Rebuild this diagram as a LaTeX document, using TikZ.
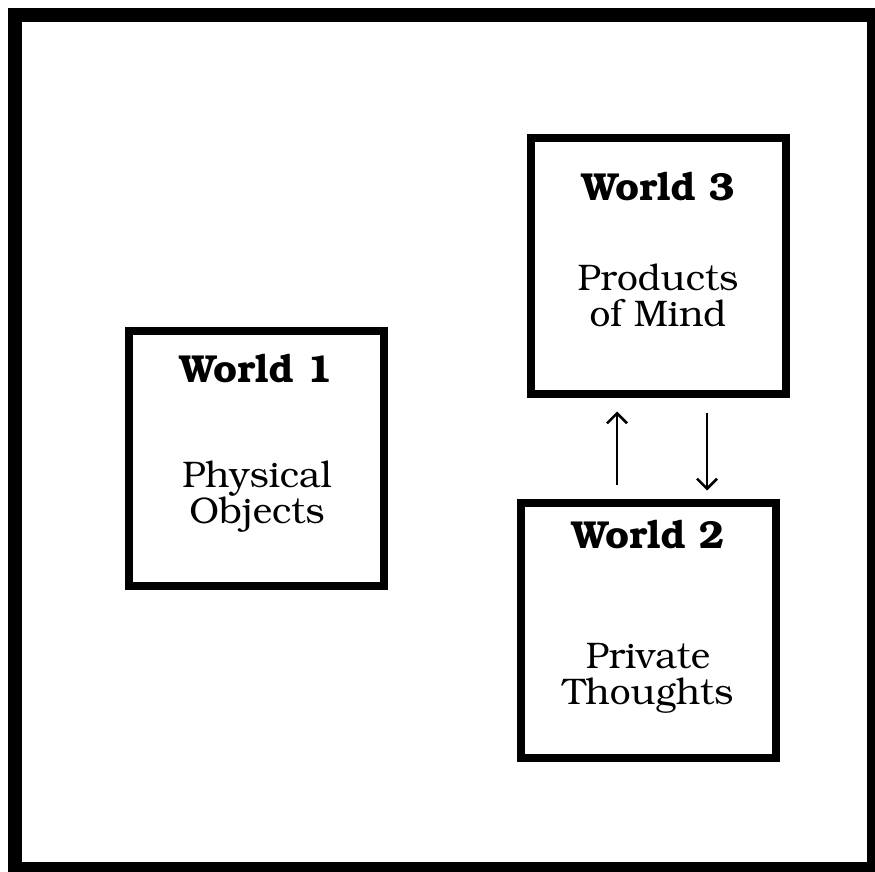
\documentclass[tikz,border=0pt]{standalone}
\usepackage[T1]{fontenc}
\usepackage{bookman}
\usetikzlibrary{arrows.meta}
\tikzset{
  worldbox/.style={draw, line width=8pt, minimum width=255pt, minimum height=255pt, inner sep=0pt},
  title/.style={anchor=base, font=\fontsize{39}{39}\selectfont\bfseries, inner sep=0pt},
  body/.style={anchor=base, font=\fontsize{37}{37}\selectfont, inner sep=0pt},
  flow/.style={line width=2.5pt, -{Straight Barb[length=10pt,width=20pt]}}
}
\begin{document}
\begin{tikzpicture}[x=1pt,y=-1pt]
\useasboundingbox (0,0) rectangle (875,872);
\draw[line width=14pt] (15,15) rectangle (874,869);
% boxes
\node[worldbox] (w1) at (256.5,458.5) {};
\node[worldbox] (w3) at (658,266) {};
\node[worldbox] (w2) at (648.5,630) {};
% texts
\node[title] (t1) at (256,382) {World 1};
\node[body] (p1a) at (257,487) {Physical};
\node[body] (p1b) at (257,523) {Objects};
\node[title] (t3) at (658,200) {World 3};
\node[body] (p3a) at (658,290) {Products};
\node[body] (p3b) at (658,326) {of Mind};
\node[title] (t2) at (648,548) {World 2};
\node[body] (p2a) at (648,668) {Private};
\node[body] (p2b) at (648,704) {Thoughts};
% arrows
\coordinate (ua) at (617,0);
\coordinate (da) at (707,0);
\draw[flow, shorten <=14pt, shorten >=14pt] (w2.north -| ua) -- (w3.south -| ua);
\draw[flow, shorten <=15pt, shorten >=8pt] (w3.south -| da) -- (w2.north -| da);
\end{tikzpicture}
\end{document}
